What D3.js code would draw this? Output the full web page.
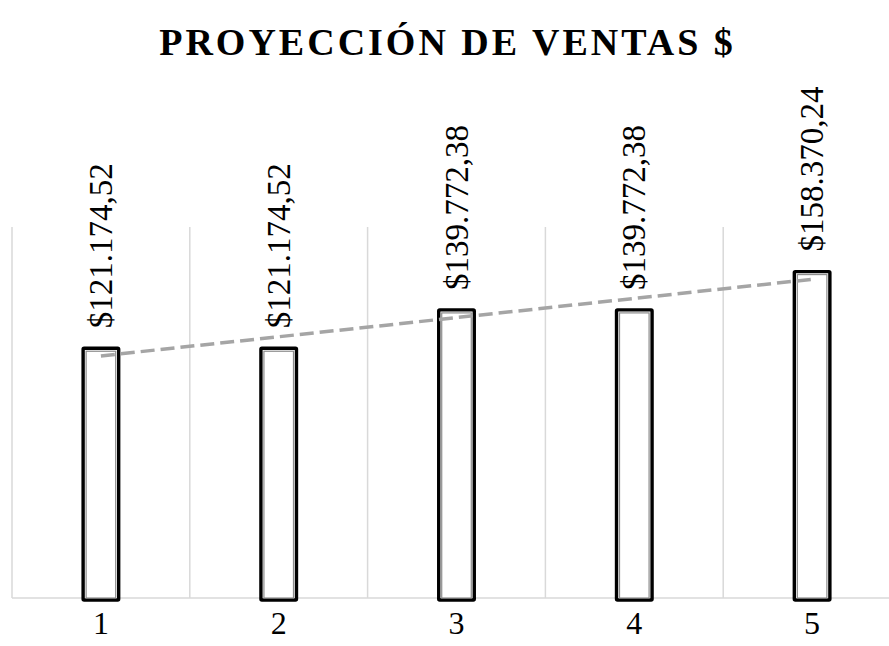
<!DOCTYPE html>
<html>
<head>
<meta charset="utf-8">
<script src="https://cdn.jsdelivr.net/npm/d3@7"></script>
<style>
  body { margin: 0; background: #fff; }
  svg { display: block; }
</style>
</head>
<body>
<div id="chart"></div>
<script>
// chart data
var categories = ["1", "2", "3", "4", "5"];
var sales = [121174.52, 121174.52, 139772.38, 139772.38, 158370.24];
var salesLabels = ["$121.174,52", "$121.174,52", "$139.772,38", "$139.772,38", "$158.370,24"];

var width = 889, height = 646;
var margin = {left: 12, right: -12, top: 227, bottom: 48};
var serif = "'Liberation Serif', 'Times New Roman', serif";

var svg = d3.select("#chart").append("svg")
    .attr("width", width)
    .attr("height", height);

var x = d3.scaleBand()
    .domain(categories)
    .range([margin.left, width - margin.right])
    .paddingInner(0.8)
    .paddingOuter(0.4);

var y = d3.scaleLinear()
    .domain([0, 180000])
    .range([height - margin.bottom, margin.top]);

var y0 = y(0);
var step = x.step();

// title
svg.append("text")
    .attr("x", width / 2 + 3)
    .attr("y", 55)
    .attr("text-anchor", "middle")
    .attr("font-family", serif)
    .attr("font-weight", "bold")
    .attr("font-size", 38)
    .attr("letter-spacing", 3)
    .attr("fill", "#000")
    .text("PROYECCIÓN DE VENTAS $");

// vertical gridlines between categories
svg.append("g").selectAll("line")
    .data(categories)
    .join("line")
    .attr("x1", function (d) { return x(d) + x.bandwidth() / 2 - step / 2; })
    .attr("x2", function (d) { return x(d) + x.bandwidth() / 2 - step / 2; })
    .attr("y1", y.range()[1])
    .attr("y2", y0)
    .attr("stroke", "#D9D9D9")
    .attr("stroke-width", 1.5);

// baseline
svg.append("line")
    .attr("x1", margin.left)
    .attr("x2", width)
    .attr("y1", y0)
    .attr("y2", y0)
    .attr("stroke", "#D9D9D9")
    .attr("stroke-width", 1.5);

// bars: double outline (black outer, gray inner)
var bars = svg.append("g").selectAll("g")
    .data(sales)
    .join("g");

bars.append("rect")
    .attr("x", function (d, i) { return x(categories[i]); })
    .attr("y", function (d) { return y(d); })
    .attr("width", x.bandwidth())
    .attr("height", function (d) { return y0 - y(d) + 2; })
    .attr("fill", "#fff")
    .attr("stroke", "#000")
    .attr("stroke-width", 3.4)
    .attr("rx", 1);

bars.append("rect")
    .attr("x", function (d, i) { return x(categories[i]) + 3; })
    .attr("y", function (d) { return y(d) + 3; })
    .attr("width", x.bandwidth() - 6)
    .attr("height", function (d) { return y0 - y(d) - 3; })
    .attr("fill", "none")
    .attr("stroke", "#8C8C8C")
    .attr("stroke-width", 1.2);

// linear trend line (least squares over the series)
var n = sales.length;
var xs = d3.range(1, n + 1);
var mx = d3.mean(xs), my = d3.mean(sales);
var slope = d3.sum(xs, function (v, i) { return (v - mx) * (sales[i] - my); }) /
    d3.sum(xs, function (v) { return (v - mx) * (v - mx); });
var intercept = my - slope * mx;
var trend = xs.map(function (v, i) { return [x(categories[i]) + x.bandwidth() / 2, y(intercept + slope * v)]; });

svg.append("path")
    .attr("d", d3.line()([trend[0], trend[n - 1]]))
    .attr("fill", "none")
    .attr("stroke", "#A5A5A5")
    .attr("stroke-width", 3.5)
    .attr("stroke-dasharray", "14,6");

// data labels (rotated)
svg.append("g").selectAll("text")
    .data(sales)
    .join("text")
    .attr("transform", function (d, i) {
        var cx = x(categories[i]) + x.bandwidth() / 2 + 11;
        return "translate(" + cx + "," + (y(d) - 20) + ") rotate(-90)";
    })
    .attr("font-family", serif)
    .attr("font-size", 33)
    .attr("fill", "#000")
    .text(function (d, i) { return salesLabels[i]; });

// category axis labels
svg.append("g").selectAll("text")
    .data(categories)
    .join("text")
    .attr("x", function (d) { return x(d) + x.bandwidth() / 2; })
    .attr("y", 634)
    .attr("text-anchor", "middle")
    .attr("font-family", serif)
    .attr("font-size", 32)
    .attr("fill", "#000")
    .text(function (d) { return d; });
</script>
</body>
</html>
